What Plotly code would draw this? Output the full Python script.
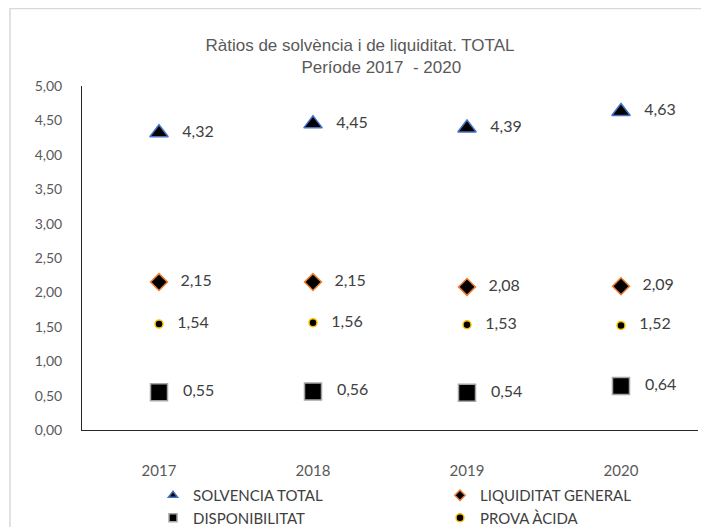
import plotly.graph_objects as go

years = ["2017", "2018", "2019", "2020"]
solvencia = [4.32, 4.45, 4.39, 4.63]
liquiditat = [2.15, 2.15, 2.08, 2.09]
disponibilitat = [0.55, 0.56, 0.54, 0.64]
prova_acida = [1.54, 1.56, 1.53, 1.52]

names = ["SOLVENCIA TOTAL", "LIQUIDITAT GENERAL", "DISPONIBILITAT", "PROVA ÀCIDA"]
series = [solvencia, liquiditat, disponibilitat, prova_acida]
styles = [
    dict(symbol="triangle-up", size=16, line=dict(color="#4472C4", width=1.5)),
    dict(symbol="diamond", size=13, line=dict(color="#ED7D31", width=1.5)),
    dict(symbol="square", size=17, line=dict(color="#A5A5A5", width=1.5)),
    dict(symbol="circle", size=8, line=dict(color="#FFC000", width=1.5)),
]
legend_ids = ["legend", "legend2", "legend", "legend2"]

W, H = 701, 519
L, R, T, B = 74, 11, 78, 97
PW, PH = W - L - R, H - T - B

title_text = ("Ràtios de solvència i de liquiditat. TOTAL<br>"
              + "\u00a0" * 9 + "Període 2017\u00a0 - 2020")

fig = go.Figure()
for name, vals, st in zip(names, series, styles):
    fig.add_trace(go.Scatter(
        x=years, y=vals, mode="markers+text", name=name, legendgroup=name,
        showlegend=False,
        marker=dict(color="black", **st),
        text=vals, texttemplate="   %{y:.2f}", textposition="middle right",
        textfont=dict(family="Lato, Open Sans, sans-serif", size=16, color="#404040"),
        cliponaxis=False,
    ))
for name, st, lg in zip(names, styles, legend_ids):
    fig.add_trace(go.Scatter(
        x=[None], y=[None], mode="markers", name=name, legendgroup=name, legend=lg,
        marker=dict(color="black", symbol=st["symbol"], size=8,
                    line=dict(color=st["line"]["color"], width=1.5)),
    ))

legend_common = dict(
    orientation="v", xref="container", yref="container", xanchor="left", yanchor="top",
    y=1 - 471 / H, tracegroupgap=0, bgcolor="rgba(0,0,0,0)",
    font=dict(family="Lato, Open Sans, sans-serif", size=15, color="#404040"),
    itemclick=False,
)

fig.update_layout(
    width=W, height=H,
    margin=dict(l=L, r=R, t=T, b=B, autoexpand=False),
    paper_bgcolor="white", plot_bgcolor="white",
    separators=",.",
    title=dict(text=title_text,
               x=352 / W, xanchor="center", y=1 - 43 / H, yanchor="middle",
               font=dict(family="Arial, Liberation Sans, sans-serif", size=17, color="#595959")),
    xaxis=dict(type="category", range=[-0.5, 3.5], showline=True, linecolor="#262626",
               linewidth=1, showgrid=False, ticks="", ticklabelstandoff=27, automargin=False,
               tickangle=0,
               tickfont=dict(family="Lato, Open Sans, sans-serif", size=15, color="#595959")),
    yaxis=dict(range=[0, 5], dtick=0.5, tickformat=".2f", showline=True, linecolor="#262626",
               linewidth=1, showgrid=False, zeroline=False, ticks="", ticklabelstandoff=16,
               automargin=False,
               tickfont=dict(family="Lato, Open Sans, sans-serif", size=14, color="#595959")),
    legend=dict(x=145 / W, **legend_common),
    legend2=dict(x=432 / W, **legend_common),
    showlegend=True,
    shapes=[dict(type="rect", xref="paper", yref="paper",
                 x0=(2 - L) / PW, x1=(W + 20 - L) / PW,
                 y0=(PH + T - H - 20) / PH, y1=(PH + T - 0.5) / PH,
                 line=dict(color="#D9D9D9", width=1.5), fillcolor="rgba(0,0,0,0)", layer="below")],
)

fig.write_html("out.html")
